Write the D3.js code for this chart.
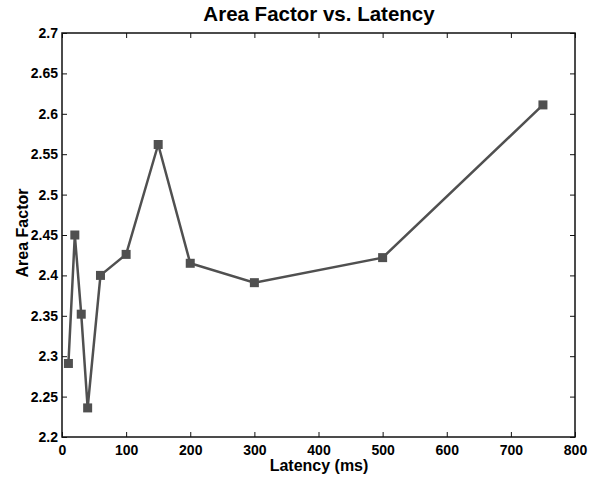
<!DOCTYPE html>
<html>
<head>
<meta charset="utf-8">
<script src="https://cdn.jsdelivr.net/npm/d3@7"></script>
<style>
  body { margin: 0; background: #fff; }
  text { font-family: "Liberation Sans", Arial, sans-serif; font-weight: bold; fill: #000; }
</style>
</head>
<body>
<script>
width = 601
height = 479

// values
latency = [10, 20, 30, 40, 60, 100, 150, 200, 300, 500, 750]
areaFactor = [2.291, 2.450, 2.352, 2.236, 2.400, 2.426, 2.562, 2.415, 2.391, 2.422, 2.611]
xTicks = [0, 100, 200, 300, 400, 500, 600, 700, 800]
yTicks = [2.2, 2.25, 2.3, 2.35, 2.4, 2.45, 2.5, 2.55, 2.6, 2.65, 2.7]

let padL = 62, padT = 33, padR = 575, padB = 437

let svg = d3.select("body")
    .append("svg")
    .attr("width", width)
    .attr("height", height)

let x = d3.scaleLinear().domain([0, 800]).range([padL, padR])
let y = d3.scaleLinear().domain([2.2, 2.7]).range([padB, padT])

// box
svg.append("rect")
    .attr("x", padL)
    .attr("y", padT)
    .attr("width", padR - padL)
    .attr("height", padB - padT)
    .attr("fill", "none")
    .attr("stroke", "#111")
    .attr("stroke-width", 1.5)

// axes (ticks point inward)
svg.append("g")
    .attr("transform", "translate(0," + padB + ")")
    .call(d3.axisBottom(x).tickValues(xTicks).tickSize(-5).tickPadding(8).tickFormat(d3.format("d")))
svg.append("g")
    .attr("transform", "translate(0," + padT + ")")
    .call(d3.axisTop(x).tickValues(xTicks).tickSize(-5).tickFormat(""))
svg.append("g")
    .attr("transform", "translate(" + padL + ",0)")
    .call(d3.axisLeft(y).tickValues(yTicks).tickSize(-5).tickPadding(4).tickFormat(d => String(+d.toFixed(2))))
svg.append("g")
    .attr("transform", "translate(" + padR + ",0)")
    .call(d3.axisRight(y).tickValues(yTicks).tickSize(-5).tickFormat(""))

svg.selectAll(".domain").remove()
svg.selectAll(".tick line").attr("stroke", "#111").attr("stroke-width", 1)
svg.selectAll(".tick text")
    .attr("font-size", 14)
    .attr("font-family", "Liberation Sans, Arial, sans-serif")
    .attr("font-weight", "bold")
    .attr("fill", "#000")

// line + markers
let pts = latency.map((d, i) => ({ x: d, y: areaFactor[i] }))
svg.append("path")
    .datum(pts)
    .attr("fill", "none")
    .attr("stroke", "#505050")
    .attr("stroke-width", 2.5)
    .attr("d", d3.line().x(d => x(d.x)).y(d => y(d.y)))

svg.selectAll("rect.pt")
    .data(pts)
    .enter()
    .append("rect")
    .attr("class", "pt")
    .attr("x", d => x(d.x) - 4.5)
    .attr("y", d => y(d.y) - 4.5)
    .attr("width", 9)
    .attr("height", 9)
    .attr("fill", "#505050")

// titles
svg.append("text")
    .attr("x", 319)
    .attr("y", 20.5)
    .attr("text-anchor", "middle")
    .attr("font-size", 20.5)
    .text("Area Factor vs. Latency")

svg.append("text")
    .attr("x", 319)
    .attr("y", 471)
    .attr("text-anchor", "middle")
    .attr("font-size", 16)
    .text("Latency (ms)")

svg.append("text")
    .attr("transform", "translate(28,233) rotate(-90)")
    .attr("text-anchor", "middle")
    .attr("font-size", 16)
    .text("Area Factor")
</script>
</body>
</html>
